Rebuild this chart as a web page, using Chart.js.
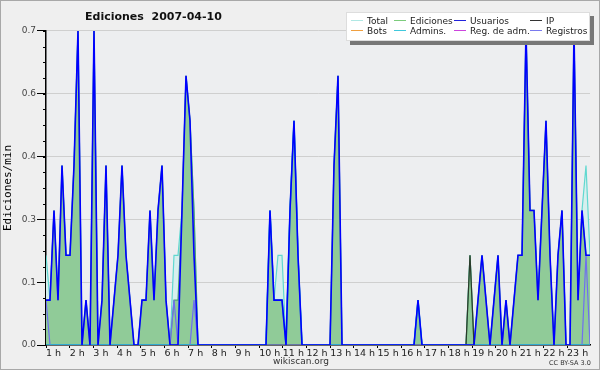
<!DOCTYPE html>
<html><head><meta charset="utf-8">
<script src="https://cdn.jsdelivr.net/npm/chart.js@4/dist/chart.umd.min.js"></script>
<style>
html,body{margin:0;padding:0;background:#efefef;}
#wrap{position:relative;width:600px;height:370px;box-sizing:border-box;border:1px solid #a8a8a8;background:#efefef;overflow:hidden;font-family:"DejaVu Sans",sans-serif;}
#c{position:absolute;left:-1px;top:-1px;}
#title{position:absolute;left:84px;top:9px;font:bold 11px "DejaVu Sans";color:#111;white-space:pre;}
#legend{position:absolute;left:345px;top:11px;width:242px;height:27px;background:#fff;border:1px solid #ddd;box-shadow:4px 4px 0 #777;font:9px "DejaVu Sans";color:#222;}
.it{position:absolute;white-space:nowrap;line-height:10px;}
.it i{display:inline-block;width:12px;height:0;border-top:1px solid;vertical-align:middle;margin-right:4px;position:relative;top:-1px;}
#foot{position:absolute;left:0;width:600px;top:355px;text-align:center;font:9px "DejaVu Sans";color:#333;}
#cc{position:absolute;left:548px;top:358px;font:6.5px "DejaVu Sans";color:#333;}
</style></head>
<body>
<div id="wrap">
<canvas id="c" width="600" height="370"></canvas>
<div id="title">Ediciones  2007-04-10</div>
<div id="legend"></div>
<div id="foot">wikiscan.org</div>
<div id="cc">CC BY-SA 3.0</div>
</div>
<script>
// one value per time bin, in edits per minute
const total = [
0.2,0.1,0.3,0.1,0.4,0.2,0.2,0.4,0.7,0,
0.1,0,0.7,0,0.1,0.4,0,0.1,0.2,0.4,
0.2,0.1,0,0,0.1,0.1,0.3,0.1,0.3,0.4,
0.1,0,0.2,0.2,0.3,0.6,0.5,0.3,0,0,
0,0,0,0,0,0,0,0,0,0,
0,0,0,0,0,0,0.3,0.1,0.2,0.2,
0,0.3,0.5,0.2,0,0,0,0,0,0,
0,0,0.4,0.6,0,0,0,0,0,0,
0,0,0,0,0,0,0,0,0,0,
0,0,0,0.1,0,0,0,0,0,0,
0,0,0,0,0,0,0.2,0,0.1,0.2,
0.1,0,0.1,0.2,0,0.1,0,0.1,0.2,0.2,
0.7,0.3,0.3,0.1,0.3,0.5,0.2,0,0.2,0.3,
0,0,0.7,0.1,0.3,0.4,0.2];
const ediciones = [
0.1,0.1,0.3,0.1,0.4,0.2,0.2,0.4,0.7,0,
0.1,0,0.7,0,0.1,0.4,0,0.1,0.2,0.4,
0.2,0.1,0,0,0.1,0.1,0.3,0.1,0.3,0.4,
0.1,0,0.1,0.1,0.3,0.6,0.5,0.3,0,0,
0,0,0,0,0,0,0,0,0,0,
0,0,0,0,0,0,0.3,0.1,0.1,0.1,
0,0.3,0.5,0.2,0,0,0,0,0,0,
0,0,0.4,0.6,0,0,0,0,0,0,
0,0,0,0,0,0,0,0,0,0,
0,0,0,0.1,0,0,0,0,0,0,
0,0,0,0,0,0,0.2,0,0.1,0.2,
0.1,0,0.1,0.2,0,0.1,0,0.1,0.2,0.2,
0.7,0.3,0.3,0.1,0.3,0.5,0.2,0,0.2,0.3,
0,0,0.7,0.1,0.3,0.2,0.2];
const usuarios = [
0.1,0.1,0.3,0.1,0.4,0.2,0.2,0.4,0.7,0,
0.1,0,0.7,0,0.1,0.4,0,0.1,0.2,0.4,
0.2,0.1,0,0,0.1,0.1,0.3,0.1,0.3,0.4,
0.1,0,0,0,0.3,0.6,0.5,0.2,0,0,
0,0,0,0,0,0,0,0,0,0,
0,0,0,0,0,0,0.3,0.1,0.1,0.1,
0,0.3,0.5,0.2,0,0,0,0,0,0,
0,0,0.4,0.6,0,0,0,0,0,0,
0,0,0,0,0,0,0,0,0,0,
0,0,0,0.1,0,0,0,0,0,0,
0,0,0,0,0,0,0,0,0.1,0.2,
0.1,0,0.1,0.2,0,0.1,0,0.1,0.2,0.2,
0.7,0.3,0.3,0.1,0.3,0.5,0.2,0,0.2,0.3,
0,0,0.7,0.1,0.3,0.2,0.2];
const ip = [
0,0,0,0,0,0,0,0,0,0, 0,0,0,0,0,0,0,0,0,0, 0,0,0,0,0,0,0,0,0,0,
0,0,0,0,0,0,0,0,0,0, 0,0,0,0,0,0,0,0,0,0, 0,0,0,0,0,0,0,0,0,0,
0,0,0,0,0,0,0,0,0,0, 0,0,0,0,0,0,0,0,0,0, 0,0,0,0,0,0,0,0,0,0,
0,0,0,0,0,0,0,0,0,0, 0,0,0,0,0,0,0.2,0,0,0, 0,0,0,0,0,0,0,0,0,0,
0,0,0,0,0,0,0,0,0,0, 0,0,0,0,0,0,0];
const admins = [
0,0,0,0,0,0,0,0,0,0, 0,0,0,0,0,0,0,0,0,0, 0,0,0,0,0,0,0,0,0,0,
0,0,0,0,0,0,0,0,0,0, 0,0,0,0,0,0,0,0,0,0, 0,0,0,0,0,0,0.3,0.1,0.1,0.1,
0,0.3,0.5,0.2,0,0,0,0,0,0, 0,0,0,0,0,0,0,0,0,0, 0,0,0,0,0,0,0,0,0,0,
0,0,0,0.1,0,0,0,0,0,0, 0,0,0,0,0,0,0,0,0,0, 0,0,0,0,0,0,0,0,0,0,
0,0,0,0,0,0,0,0,0,0, 0,0,0,0,0,0,0];
const registros = [
0.1,0,0,0,0,0,0,0,0,0, 0,0,0,0,0,0,0,0,0,0, 0,0,0,0,0,0,0,0,0,0,
0,0,0.1,0,0,0,0,0.1,0,0, 0,0,0,0,0,0,0,0,0,0, 0,0,0,0,0,0,0,0,0,0,
0,0,0,0,0,0,0,0,0,0, 0,0,0,0,0,0,0,0,0,0, 0,0,0,0,0,0,0,0,0,0,
0,0,0,0,0,0,0,0,0,0, 0,0,0,0,0,0,0,0,0,0, 0,0,0,0,0,0,0,0,0,0,
0,0,0,0,0,0,0,0,0,0, 0,0,0,0,0,0.2,0];
const axisHours = 22.97;       // span of the time axis in hours
const firstHour = 1;           // label of the first hour tick
const ticksPerHour = 6;
const yMax = 0.7, yStep = 0.14, yMinor = 0.035;
const legendItems = [
  ['Total','#b0e8e4'],['Ediciones','#7ccc7c'],['Usuarios','#2222dd'],['IP','#333333'],
  ['Bots','#f0a040'],['Admins.','#40c8dc'],['Reg. de adm.','#cc44dd'],['Registros','#7a7aee']];

const bins = total.map((_, i) => i);

// legend (HTML)
const colX = [4, 47, 107, 183];
const lg = document.getElementById('legend');
legendItems.forEach((it, k) => {
  const d = document.createElement('div');
  d.className = 'it';
  d.style.left = colX[k % 4] + 'px';
  d.style.top = (k < 4 ? 3 : 13) + 'px';
  d.innerHTML = '<i style="border-color:' + it[1] + '"></i>' + it[0];
  lg.appendChild(d);
});

const bgPlugin = {
  id: 'bg',
  beforeDraw(chart) {
    const {ctx, chartArea: a} = chart;
    ctx.save(); ctx.fillStyle = '#edeef0';
    ctx.fillRect(a.left, a.top, a.right - a.left, a.bottom - a.top);
    ctx.restore();
  },
  afterDraw(chart) {
    const {ctx, chartArea: a, scales: {y}} = chart;
    ctx.save(); ctx.strokeStyle = '#000'; ctx.lineWidth = 1;
    for (let v = 0; v <= yMax + 1e-9; v += yMinor) {
      const py = Math.round(y.getPixelForValue(v)) + 0.5;
      ctx.beginPath(); ctx.moveTo(a.left - 3, py); ctx.lineTo(a.left, py); ctx.stroke();
    }
    ctx.restore();
  }
};

new Chart(document.getElementById('c'), {
  type: 'line',
  data: {
    labels: bins,
    datasets: [
      {label:'Usuarios', data: usuarios, borderColor:'#0000ff', borderWidth:1.6, fill:false, pointRadius:0, order:1},
      {label:'Admins.', data: admins, borderColor:'#22bbdd', borderWidth:1.4, fill:false, pointRadius:0, order:2},
      {label:'Registros', data: registros, borderColor:'#6f6ff0', borderWidth:1.2, fill:false, pointRadius:0, order:3},
      {label:'IP', data: ip, borderColor:'#2a3a2a', borderWidth:1.2, fill:false, pointRadius:0, order:4},
      {label:'Ediciones', data: ediciones, borderColor:'#4f9f6f', backgroundColor:'#90cb98', borderWidth:1.2, fill:'origin', pointRadius:0, order:5},
      {label:'Total', data: total, borderColor:'#60d8d0', backgroundColor:'#d6efee', borderWidth:1.2, fill:'origin', pointRadius:0, order:6}
    ]
  },
  options: {
    animation:false, responsive:false, devicePixelRatio:1,
    layout:{padding:{left:1, top:31, right:10, bottom:0}},
    plugins:{legend:{display:false}, tooltip:{enabled:false}},
    elements:{line:{tension:0}},
    scales:{
      x:{type:'linear', display:false, min:0, max:bins.length - 1},
      time:{type:'linear', axis:'x', position:'bottom', min:0, max:axisHours,
        afterBuildTicks(s){ const t=[]; for(let k=0;k<=Math.floor(axisHours*ticksPerHour);k++) t.push({value:k/ticksPerHour}); s.ticks=t; },
        afterFit(s){ s.height = 25; },
        ticks:{autoSkip:false, maxRotation:0, align:'start', padding:0, color:'#222',
          font:{family:'DejaVu Sans', size:9.5},
          callback(v){ const r = Math.round(v); return Math.abs(v - r) < 1e-6 ? (r + firstHour) + ' h' : ''; }},
        grid:{drawOnChartArea:false, drawTicks:true, tickLength:3, tickColor:'#000'},
        border:{color:'#000', width:1.5}
      },
      y:{min:0, max:yMax,
        afterBuildTicks(s){ const t=[]; for(let k=0;k<=5;k++) t.push({value:k*yStep}); s.ticks=t; },
        afterFit(s){ s.width = 45; },
        ticks:{padding:1, color:'#444', font:{family:'DejaVu Sans', size:9},
          callback(v){ return v.toFixed(1); }},
        grid:{color:'#cfcfcf', lineWidth:1, tickLength:9, tickColor:'#000'},
        border:{color:'#000', width:1.5},
        title:{display:true, text:'Ediciones/min', color:'#000', padding:{top:1,bottom:0},
          font:{family:'DejaVu Sans Mono', size:11}}
      }
    }
  },
  plugins:[bgPlugin]
});
</script>
</body></html>
